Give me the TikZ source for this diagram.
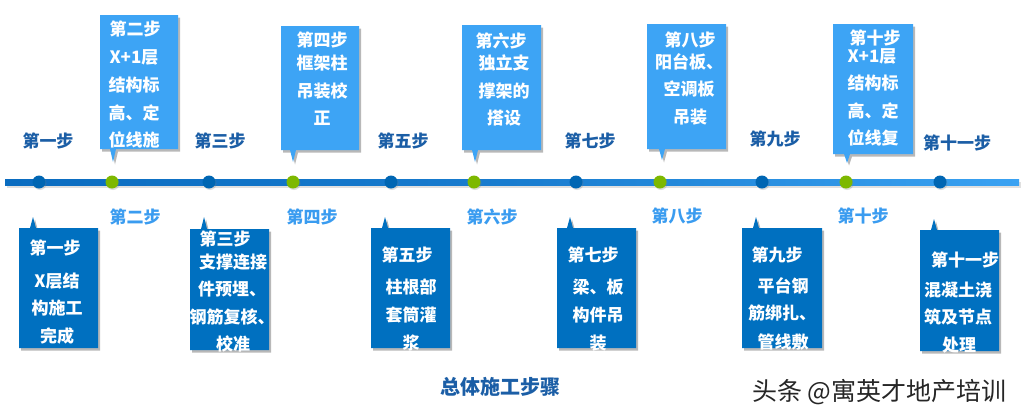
\documentclass[tikz,border=0pt]{standalone}
\usepackage{fontspec}
\newfontfamily\cjk{Noto Sans CJK SC}
\usetikzlibrary{shadows}
\definecolor{lightbox}{HTML}{3DA4F5}
\definecolor{darkbox}{HTML}{0070C0}
\definecolor{toplab}{HTML}{1B5EA6}
\definecolor{botlab}{HTML}{3A9CF0}
\definecolor{dotgreen}{HTML}{7DB800}
\definecolor{dotblue}{HTML}{0066B3}
\definecolor{lineL}{HTML}{0A6CC0}
\definecolor{lineR}{HTML}{3AA2F2}
\newcommand\downcall[7]{% name,x1,y1,x2,y2,px,tip : pointer down
  \path[lightcall] (#2,#3) -- (#4,#3) -- (#4,#5) -- (#6+3,#5) -- (#6,#7) -- (#6-3,#5) -- (#2,#5) -- cycle;
  \coordinate (#1) at ({(#2+#4)/2},{(#3+#5)/2});}
\newcommand\upcall[7]{% name,x1,y1,x2,y2,px,tip : pointer up
  \path[darkcall] (#2,#3) -- (#6-3,#3) -- (#6,#7) -- (#6+3,#3) -- (#4,#3) -- (#4,#5) -- (#2,#5) -- cycle;
  \coordinate (#1) at ({(#2+#4)/2},{(#3+#5)/2});}
\begin{document}
\begin{tikzpicture}[x=1pt,y=-1pt,
  shad/.style={drop shadow={shadow xshift=2pt,shadow yshift=-2.5pt,fill=black,opacity=0.28}},
  lightcall/.style={fill=lightbox,shad},
  darkcall/.style={fill=darkbox,shad},
  boxtxt/.style={text=white,inner sep=0pt,font=\cjk\bfseries\fontsize{17}{20}\selectfont},
  toplabel/.style={text=toplab,inner sep=0pt,font=\cjk\bfseries\fontsize{17}{20}\selectfont},
  botlabel/.style={text=botlab,inner sep=0pt,font=\cjk\bfseries\fontsize{17}{20}\selectfont},
  bdot/.style={circle,fill=dotblue,minimum size=13pt,inner sep=0pt,drop shadow={shadow xshift=1pt,shadow yshift=-1.5pt,opacity=0.25}},
  gdot/.style={circle,fill=dotgreen,minimum size=13pt,inner sep=0pt,drop shadow={shadow xshift=1pt,shadow yshift=-1.5pt,opacity=0.25}},
]
\useasboundingbox (0,0) rectangle (1031,418);
\fill[white] (0,0) rectangle (1031,418);

% timeline
\fill[black,opacity=0.12] (7,182) rectangle (1021,188);
\shade[left color=lineL,right color=lineR,middle color=lineL!70!lineR] (5,179) rectangle (1019,185);
\coordinate (lstart) at (5,182);
\coordinate (lend) at (1019,182);

% dots
\node[bdot] (d1) at (39,182) {};
\node[gdot] (d2) at (112,182) {};
\node[bdot] (d3) at (209,182) {};
\node[gdot] (d4) at (293,182) {};
\node[bdot] (d5) at (391,182) {};
\node[gdot] (d6) at (474,182) {};
\node[bdot] (d7) at (576,182) {};
\node[gdot] (d8) at (660,182) {};
\node[bdot] (d9) at (762,182) {};
\node[gdot] (d10) at (846,182) {};
\node[bdot] (d11) at (940,182) {};

% top labels
\node[toplabel] (l1) at (48,141) {第一步};
\node[toplabel] (l3) at (220,141) {第三步};
\node[toplabel] (l5) at (403,141) {第五步};
\node[toplabel] (l7) at (590,141) {第七步};
\node[toplabel] (l9) at (775,139) {第九步};
\node[toplabel] (l11) at (957,143) {第十一步};

% bottom labels
\node[botlabel] (l2) at (135,217) {第二步};
\node[botlabel] (l4) at (312,217) {第四步};
\node[botlabel] (l6) at (492,217) {第六步};
\node[botlabel] (l8) at (677,216) {第八步};
\node[botlabel] (l10) at (863,216) {第十步};

% top callouts
\downcall{c2}{100}{15}{178}{149}{113}{162}
\node[boxtxt] (c2a) at (135,29) {第二步};
\node[boxtxt] (c2b) at (134,57) {X+1层};
\node[boxtxt] (c2c) at (134,85) {结构标};
\node[boxtxt] (c2d) at (134,113) {高、定};
\node[boxtxt] (c2e) at (134,140) {位线施};

\downcall{c4}{281}{26}{359}{150}{293}{162}
\node[boxtxt] (c4a) at (322,40) {第四步};
\node[boxtxt] (c4b) at (322,63) {框架柱};
\node[boxtxt] (c4c) at (322,91) {吊装校};
\node[boxtxt] (c4d) at (322,118) {正};

\downcall{c6}{462}{25}{541}{150}{475}{162}
\node[boxtxt] (c6a) at (501,41) {第六步};
\node[boxtxt] (c6b) at (504,63) {独立支};
\node[boxtxt] (c6c) at (504,91) {撑架的};
\node[boxtxt] (c6d) at (504,118) {搭设};

\downcall{c8}{647}{24}{726}{149}{662}{160}
\node[boxtxt] (c8a) at (690,40) {第八步};
\node[boxtxt] (c8b) at (689,62) {阳台板、};
\node[boxtxt] (c8c) at (689,89) {空调板};
\node[boxtxt] (c8d) at (690,117) {吊装};

\downcall{c10}{833}{24}{913}{154}{847}{163}
\node[boxtxt] (c10a) at (875,38) {第十步};
\node[boxtxt] (c10b) at (872,56) {X+1层};
\node[boxtxt] (c10c) at (873,83) {结构标};
\node[boxtxt] (c10d) at (873,111) {高、定};
\node[boxtxt] (c10e) at (873,138) {位线复};

% bottom callouts
\upcall{c1}{19}{228}{98}{348}{33}{217}
\node[boxtxt] (c1a) at (55,248) {第一步};
\node[boxtxt] (c1b) at (57,281) {X层结};
\node[boxtxt] (c1c) at (57,308) {构施工};
\node[boxtxt] (c1d) at (57,336) {完成};

\upcall{c3}{190}{229}{269}{350}{204}{217}
\node[boxtxt] (c3a) at (225,239) {第三步};
\node[boxtxt] (c3b) at (233,262) {支撑连接};
\node[boxtxt] (c3c) at (232,289) {件预埋、};
\node[boxtxt] (c3d) at (232,317) {钢筋复核、};
\node[boxtxt] (c3e) at (233,344) {校准};

\upcall{c5}{371}{228}{450}{348}{385}{217}
\node[boxtxt] (c5a) at (407,255) {第五步};
\node[boxtxt] (c5b) at (411,287) {柱根部};
\node[boxtxt] (c5c) at (411,315) {套筒灌};
\node[boxtxt] (c5d) at (411,343) {浆};

\upcall{c7}{557}{228}{636}{348}{570}{217}
\node[boxtxt] (c7a) at (593,255) {第七步};
\node[boxtxt] (c7b) at (598,287) {梁、板};
\node[boxtxt] (c7c) at (598,315) {构件吊};
\node[boxtxt] (c7d) at (598,343) {装};

\upcall{c9}{742}{228}{822}{348}{756}{217}
\node[boxtxt] (c9a) at (777,255) {第九步};
\node[boxtxt] (c9b) at (783,286) {平台钢};
\node[boxtxt] (c9c) at (782,313) {筋绑扎、};
\node[boxtxt] (c9d) at (783,342) {管线敷};

\upcall{c11}{920}{230}{999}{351}{934}{219}
\begin{scope}
\clip (920,230) rectangle (999,351);
\node[boxtxt] (c11a) at (965,260) {第十一步};
\end{scope}
\node[boxtxt] (c11b) at (958,290) {混凝土浇};
\node[boxtxt] (c11c) at (958,317) {筑及节点};
\node[boxtxt] (c11d) at (959,345) {处理};

% title
\node[text=toplab,inner sep=0pt,font=\cjk\bfseries\fontsize{20}{24}\selectfont] (title) at (500,387) {总体施工步骤};

% watermark
\node[text=black!85,inner sep=0pt,anchor=west,font=\cjk\fontsize{25}{28}\selectfont] (wm) at (752,392) {头条 @寓英才地产培训};
\end{tikzpicture}
\end{document}
